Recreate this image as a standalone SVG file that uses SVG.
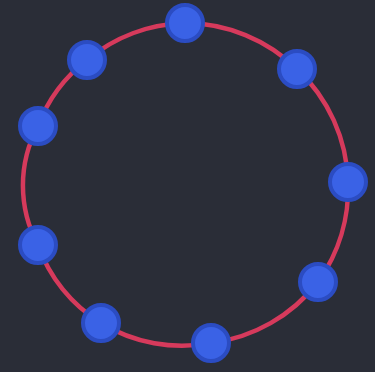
<svg xmlns="http://www.w3.org/2000/svg" width="375" height="372" viewBox="0 0 375 372">
<style>
.edge{fill:none;stroke:#d63a5c;stroke-width:4.5;stroke-linecap:round}
.node{fill:#3a62e6;stroke:#2b4cc2;stroke-width:4}
</style>
<rect width="375" height="372" fill="#2a2d37"/>
<g id="connectors">
<path class="edge" d="M185,23 A161,161 0 0 1 297,69"/>
<path class="edge" d="M297,69 A161,161 0 0 1 348,182"/>
<path class="edge" d="M348,182 A161,161 0 0 1 318,282"/>
<path class="edge" d="M318,282 A161,161 0 0 1 211,343"/>
<path class="edge" d="M211,343 A155,155 0 0 1 101,323"/>
<path class="edge" d="M101,323 A150,150 0 0 1 38,245"/>
<path class="edge" d="M38,245 A125,125 0 0 1 38,126"/>
<path class="edge" d="M38,126 A150,150 0 0 1 87,60"/>
<path class="edge" d="M87,60 A161,161 0 0 1 185,23"/>
</g>
<g id="n1"><circle class="node" cx="185" cy="23" r="18"/></g>
<g id="n2"><circle class="node" cx="297" cy="69" r="18"/></g>
<g id="n3"><circle class="node" cx="348" cy="182" r="18"/></g>
<g id="n4"><circle class="node" cx="318" cy="282" r="18"/></g>
<g id="n5"><circle class="node" cx="211" cy="343" r="18"/></g>
<g id="n6"><circle class="node" cx="101" cy="323" r="18"/></g>
<g id="n7"><circle class="node" cx="38" cy="245" r="18"/></g>
<g id="n8"><circle class="node" cx="38" cy="126" r="18"/></g>
<g id="n9"><circle class="node" cx="87" cy="60" r="18"/></g>
</svg>
